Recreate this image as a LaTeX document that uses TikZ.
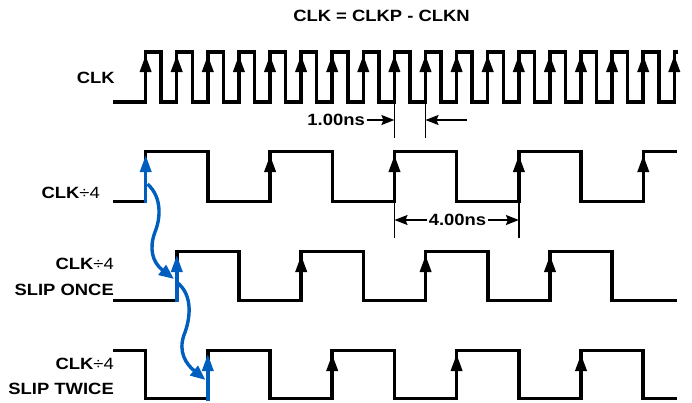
\documentclass[tikz,border=0pt]{standalone}
\usepackage{fontspec}
\setmainfont{Liberation Sans}[FakeStretch=1.13]
\usepackage{tikz}
\usetikzlibrary{arrows.meta,positioning}
\definecolor{slipblue}{RGB}{0,94,190}

\begin{document}
\begin{tikzpicture}[x=1pt,y=-1pt,
  lbl/.style={font=\fontsize{16.3}{20}\selectfont\bfseries, inner sep=0pt, anchor=base east},
  dimlbl/.style={font=\fontsize{16.3}{20}\selectfont\bfseries, inner sep=2pt},
  waveline/.style={line width=3.5pt},
  edgearrow/.style={line width=3.5pt, -{Triangle[length=17pt,width=11pt]}},
  slip/.style={slipblue, line width=3.4pt},
  dimline/.style={line width=1.4pt},
  dimarrow/.style={line width=1.6pt, -{Stealth[length=13pt,width=10pt,inset=2pt]}}]
\useasboundingbox (0,0) rectangle (692,402);

\node [lbl, anchor=base] (title) at (381.5,21.5) {CLK = CLKP - CLKN};

% CLK
\node [lbl] (clkname) at (115,83.3) {CLK};
\draw [waveline] (113,102) foreach \k in {0,...,16} {-- ({145.6+31.1*\k},102) -- ({145.6+31.1*\k},52) -- ({161.15+31.1*\k},52) -- ({161.15+31.1*\k},102)} -- (674.3,102) -- (674.3,52) -- (678,52);
\foreach \k in {0,...,17} \draw [edgearrow] ({145.6+31.1*\k},85) -- ({145.6+31.1*\k},55);

% CLK/4
\node [lbl] (divname) at (100,198) {CLK{\mdseries ÷4}};
\draw [waveline] (113,201.7) foreach \k in {0,...,3} {-- ({145.7+124.4*\k},201.7) -- ({145.7+124.4*\k},151.7) -- ({207.9+124.4*\k},151.7) -- ({207.9+124.4*\k},201.7)} -- (643.3,201.7) -- (643.3,151.7) -- (677,151.7);
\foreach \k in {1,...,4} \draw [edgearrow] ({145.7+124.4*\k},185) -- ({145.7+124.4*\k},155);

% slip once
\node [lbl] (onceA) at (114,269.5) {CLK{\mdseries ÷4}};
\node [lbl] (onceB) at (114,295) {SLIP ONCE};
\draw [waveline] (113,300.7) foreach \k in {0,...,3} {-- ({176.8+124.4*\k},300.7) -- ({176.8+124.4*\k},251.7) -- ({239+124.4*\k},251.7) -- ({239+124.4*\k},300.7)} -- (677,300.7);
\foreach \k in {1,...,3} \draw [edgearrow] ({176.8+124.4*\k},285) -- ({176.8+124.4*\k},255);

% slip twice
\node [lbl] (twiceA) at (114,369.5) {CLK{\mdseries ÷4}};
\node [lbl] (twiceB) at (114,394.5) {SLIP TWICE};
\draw [waveline] (113,350.7) foreach \k in {0,...,3} {-- ({145.6+124.4*\k},350.7) -- ({145.6+124.4*\k},398.3) -- ({207.8+124.4*\k},398.3) -- ({207.8+124.4*\k},350.7)} -- (643.2,350.7) -- (643.2,398.3) -- (677,398.3);
\foreach \k in {1,...,3} \draw [edgearrow] ({207.8+124.4*\k},384) -- ({207.8+124.4*\k},354);

% blue slipped edges
\draw [slip, -{Triangle[length=17pt,width=11pt]}] (145.7,203.4) -- (145.7,155);
\draw [slip, -{Triangle[length=17pt,width=11pt]}] (176.8,302.4) -- (176.8,255);
\draw [slip, -{Triangle[length=17pt,width=11pt]}] (207.8,401) -- (207.8,354);

\coordinate (slipA) at (147.5,184);
\coordinate (slipB) at (174,279);
\coordinate (slipC) at (176.5,282);
\coordinate (slipD) at (205.5,380);
\draw [slip, -{Triangle[length=15pt,width=12pt]}] (slipA) .. controls (163,198) and (160,220) .. (155,232) .. controls (149,248) and (152,262) .. (slipB);
\draw [slip, -{Triangle[length=15pt,width=12pt]}] (slipC) .. controls (194,295) and (190,320) .. (184,335) .. controls (178,352) and (186,364) .. (slipD);

% 1.00ns
\coordinate (dimA) at (394.4,138);
\coordinate (dimB) at (425.5,138);
\draw [dimline] (394.4,102) -- (dimA);
\draw [dimline] (425.5,102) -- (dimB);
\node [dimlbl, anchor=east] (ns1) at (367,120) {1.00ns};
\coordinate (ns1free) at (467,120);
\draw [dimarrow] (ns1.east) -- (ns1.east -| dimA);
\draw [dimarrow] (ns1free) -- (ns1free -| dimB);

% 4.00ns
\coordinate (dimC) at (394.5,238);
\coordinate (dimD) at (518.9,238);
\draw [dimline] (394.5,201.7) -- (dimC);
\draw [dimline] (518.9,201.7) -- (dimD);
\node [dimlbl] (ns4) at (457.5,220) {4.00ns};
\draw [dimarrow] (ns4.west) -- (ns4.west -| dimC);
\draw [dimarrow] (ns4.east) -- (ns4.east -| dimD);

\end{tikzpicture}
\end{document}
